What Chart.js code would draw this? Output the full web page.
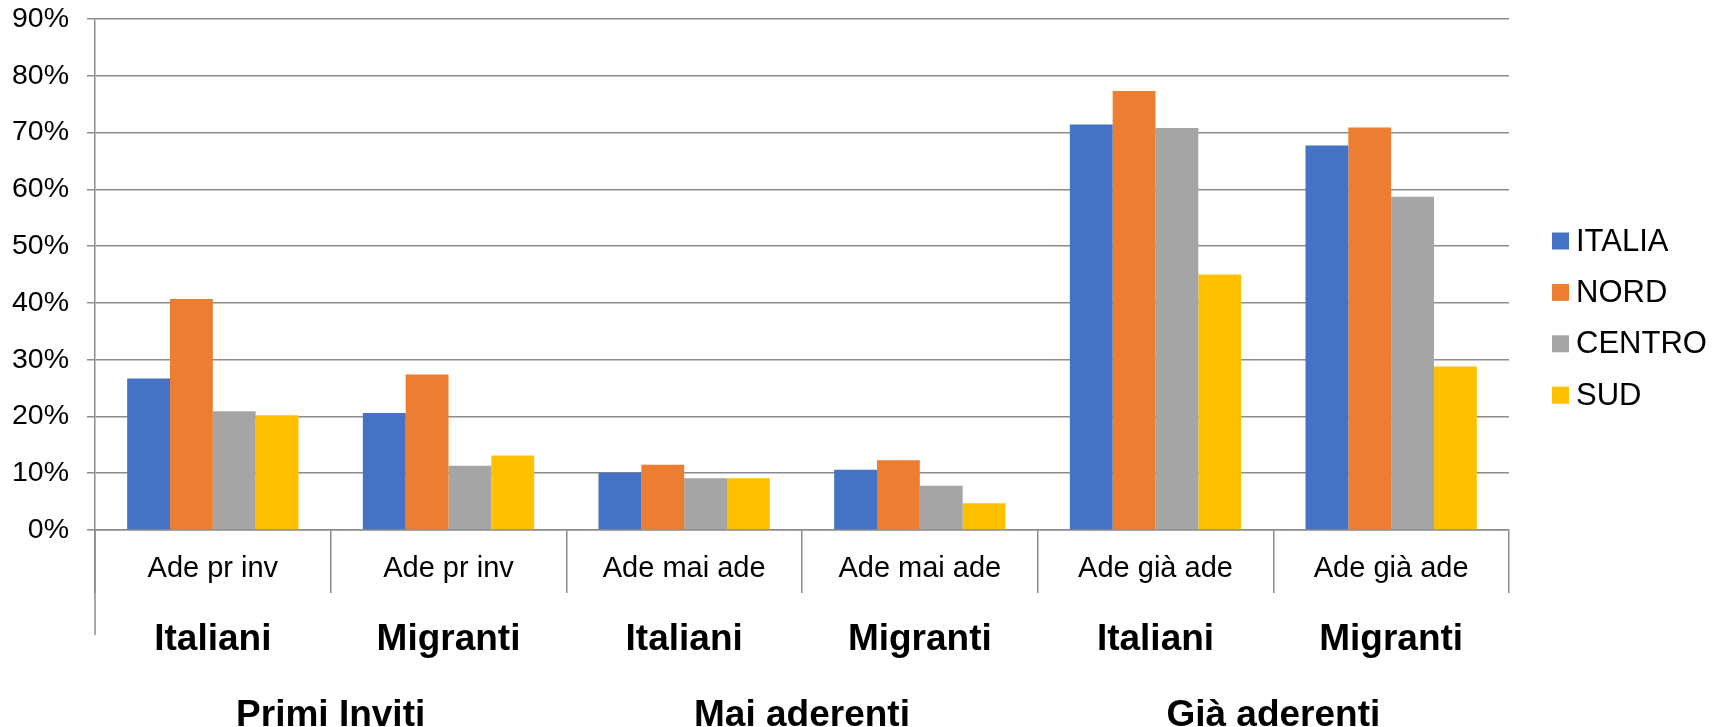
<!DOCTYPE html>
<html>
<head>
<meta charset="utf-8">
<script src="https://cdn.jsdelivr.net/npm/chart.js@4/dist/chart.umd.min.js"></script>
<style>
html,body{margin:0;padding:0;background:#fff;}
#wrap{width:1730px;height:727px;position:relative;}
</style>
</head>
<body>
<div id="wrap"><canvas id="chart"></canvas></div>
<script>
// dati (percentuali)
const categorie = ['Ade pr inv','Ade pr inv','Ade mai ade','Ade mai ade','Ade già ade','Ade già ade'];
const popolazione = ['Italiani','Migranti','Italiani','Migranti','Italiani','Migranti'];
const gruppi = ['Primi Inviti','Mai aderenti','Già aderenti'];

const italia = [26.7, 20.6, 10.1, 10.6, 71.4, 67.7];
const nord   = [40.7, 27.4, 11.5, 12.3, 77.3, 70.9];
const centro = [20.9, 11.3,  9.1,  7.8, 70.8, 58.7];
const sud    = [20.2, 13.1,  9.1,  4.7, 45.0, 28.8];

const GRID = '#8c8c8c';
const FONT = 'Arial, "Liberation Sans", sans-serif';

// etichette di secondo e terzo livello + legenda a destra
const extraLabels = {
  id: 'extraLabels',
  afterDraw(chart){
    const ctx = chart.ctx;
    const x = chart.scales.x;
    const area = chart.chartArea;
    ctx.save();

    // asse verticale che prosegue sotto le etichette
    ctx.strokeStyle = GRID;
    ctx.lineWidth = 1.5;
    ctx.beginPath();
    ctx.moveTo(x.left, area.bottom);
    ctx.lineTo(x.left, 635);
    ctx.stroke();

    ctx.fillStyle = '#000';
    ctx.font = 'bold 37px ' + FONT;
    ctx.textAlign = 'center';
    ctx.textBaseline = 'alphabetic';

    popolazione.forEach((p, i) => {
      ctx.fillText(p, x.getPixelForValue(i), 650);
    });

    gruppi.forEach((g, i) => {
      const c = (x.getPixelForValue(2 * i) + x.getPixelForValue(2 * i + 1)) / 2;
      ctx.fillText(g, c, 726);
    });

    // legenda
    ctx.font = '31px ' + FONT;
    ctx.textAlign = 'left';
    ctx.textBaseline = 'middle';
    chart.data.datasets.forEach((ds, i) => {
      const cy = 241 + i * 51.4;
      ctx.fillStyle = ds.backgroundColor;
      ctx.fillRect(1552, cy - 8.5, 17, 17);
      ctx.fillStyle = '#000';
      ctx.fillText(ds.label, 1576, cy + 1);
    });

    ctx.restore();
  }
};

new Chart(
  document.getElementById('chart'),
  {
    type: 'bar',
    data: {
      labels: categorie,
      datasets: [
        { label: 'ITALIA', data: italia, backgroundColor: '#4472C4' },
        { label: 'NORD',   data: nord,   backgroundColor: '#ED7D31' },
        { label: 'CENTRO', data: centro, backgroundColor: '#A5A5A5' },
        { label: 'SUD',    data: sud,    backgroundColor: '#FFC000' }
      ]
    },
    options: {
      responsive: true,
      maintainAspectRatio: false,
      animation: false,
      layout: { padding: { top: 19, right: 221, left: 0, bottom: 0 } },
      datasets: {
        bar: { categoryPercentage: 0.727, barPercentage: 1.0 }
      },
      plugins: {
        legend: { display: false },
        tooltip: { enabled: false }
      },
      scales: {
        x: {
          afterFit(s){ s.height = 197; },
          grid: {
            offset: true,
            drawOnChartArea: false,
            drawTicks: true,
            tickLength: 63,
            color: GRID,
            lineWidth: 1.5
          },
          border: { display: true, color: GRID, width: 1.5 },
          ticks: {
            autoSkip: false,
            maxRotation: 0,
            padding: -41,
            color: '#000',
            font: { family: FONT, size: 29 }
          }
        },
        y: {
          min: 0,
          max: 90,
          afterFit(s){ s.width = 95; s.paddingTop = 0; s.paddingBottom = 0; },
          grid: {
            color: GRID,
            lineWidth: 1.5,
            drawTicks: true,
            tickLength: 8
          },
          border: { display: true, color: GRID, width: 1.5 },
          ticks: {
            stepSize: 10,
            padding: 18,
            color: '#000',
            font: { family: FONT, size: 28.5 },
            callback: v => v + '%'
          }
        }
      }
    },
    plugins: [extraLabels]
  }
);
</script>
</body>
</html>
